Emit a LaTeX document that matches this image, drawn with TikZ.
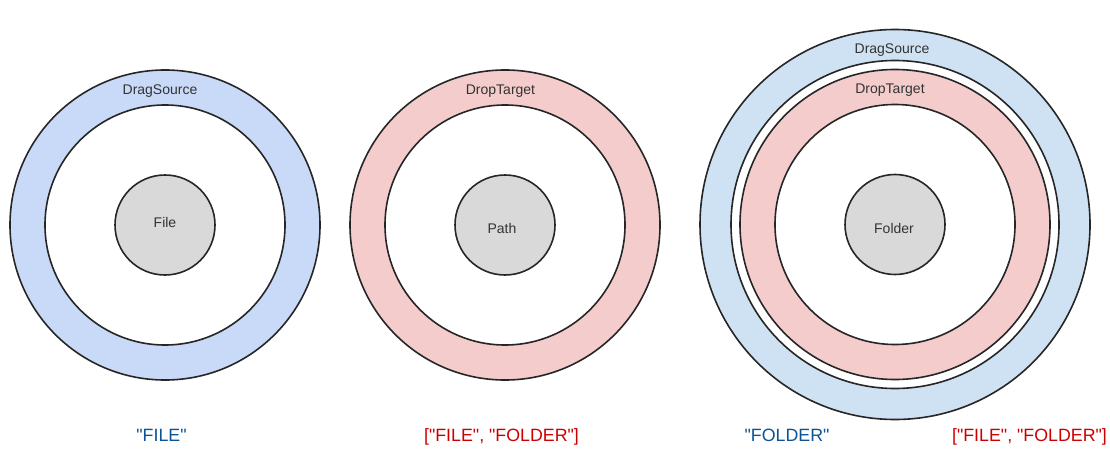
\documentclass[tikz,border=0pt]{standalone}
\usepackage{fontspec}
\setmainfont{Liberation Sans}
\definecolor{ringblue}{HTML}{C9DAF8}
\definecolor{ringblueb}{HTML}{CFE2F3}
\definecolor{ringpink}{HTML}{F4CCCC}
\definecolor{coregray}{HTML}{D9D9D9}
\definecolor{strokec}{HTML}{262626}
\definecolor{txtc}{HTML}{333333}
\definecolor{lblblue}{HTML}{0B5394}
\definecolor{lblred}{HTML}{CC0000}
\newcommand{\qq}{\textquotedbl}
\tikzset{
  ring/.style={circle, draw=strokec, line width=1.6pt, inner sep=0pt, minimum size=#1},
  intext/.style={anchor=base, text=txtc, font=\fontsize{14}{16}\selectfont, inner sep=0pt},
  lbl/.style={anchor=base, font=\fontsize{17.8}{20}\selectfont, inner sep=0pt}
}
\begin{document}
\begin{tikzpicture}[x=1pt,y=-1pt]
\useasboundingbox (0,0) rectangle (1110,468);
% circle 1
\node[ring=310pt, fill=ringblue] (s1) at (165,225) {};
\node[ring=240pt, fill=white] (w1) at (165,225) {};
\node[ring=100pt, fill=coregray] (c1) at (165,225) {};
\node[intext] (t1) at (160,94.5) {DragSource};
\node[intext] (f1) at (165,227.3) {File};
% circle 2
\node[ring=310pt, fill=ringpink] (s2) at (505,225) {};
\node[ring=240pt, fill=white] (w2) at (505,225) {};
\node[ring=100pt, fill=coregray] (c2) at (505,225) {};
\node[intext] (t2) at (500.5,94.3) {DropTarget};
\node[intext] (f2) at (502,233) {Path};
% circle 3
\node[ring=390pt, fill=ringblueb] (s3) at (895,224.5) {};
\node[ring=328pt, fill=white] (g3) at (895,224.5) {};
\node[ring=310pt, fill=ringpink] (p3) at (895,224.5) {};
\node[ring=240pt, fill=white] (w3) at (895,224.5) {};
\node[ring=100pt, fill=coregray] (c3) at (895,224.5) {};
\node[intext] (t3a) at (892,53.3) {DragSource};
\node[intext] (t3b) at (890,94) {DropTarget};
\node[intext] (f3) at (894,233.3) {Folder};
% labels
\node[lbl, text=lblblue] (l1) at (161.5,441.3) {\qq FILE\qq};
\node[lbl, text=lblred] (l2) at (501.5,441.3) {[\qq FILE\qq, \qq FOLDER\qq]};
\node[lbl, text=lblblue] (l3) at (787,441.3) {\qq FOLDER\qq};
\node[lbl, text=lblred] (l4) at (1029.5,441.3) {[\qq FILE\qq, \qq FOLDER\qq]};
\end{tikzpicture}
\end{document}
